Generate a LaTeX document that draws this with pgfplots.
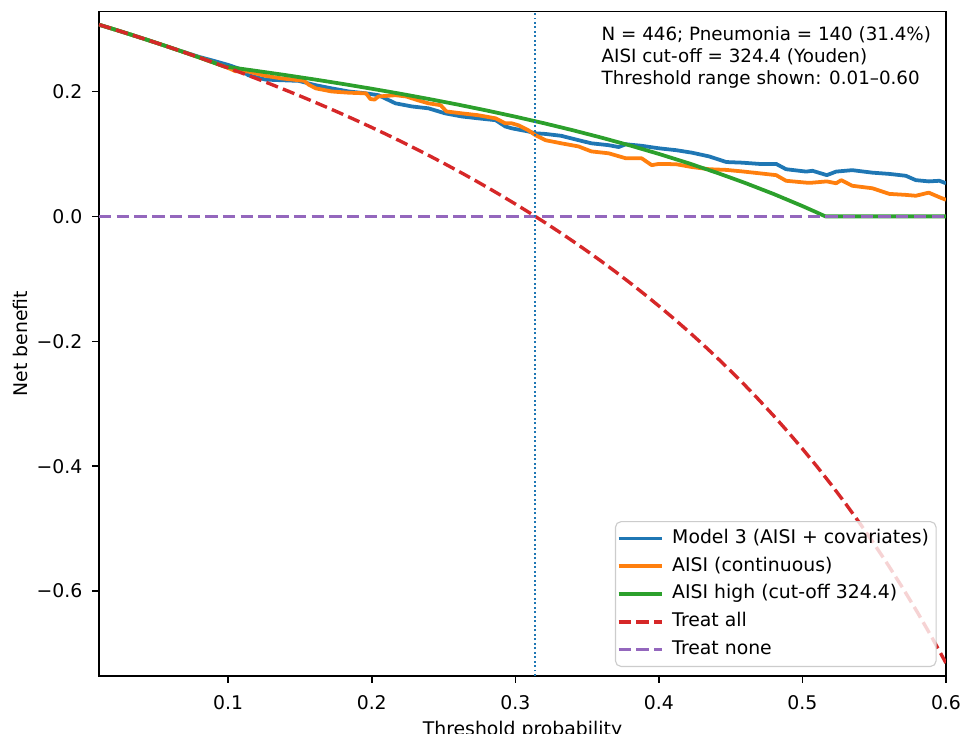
\documentclass[border=0pt]{standalone}
\usepackage{fontspec}
\setmainfont{DejaVu Sans}
\usepackage{pgfplots}
\pgfplotsset{compat=1.18}
\definecolor{tabblue}{HTML}{1F77B4}
\definecolor{taborange}{HTML}{FF7F0E}
\definecolor{tabgreen}{HTML}{2CA02C}
\definecolor{tabred}{HTML}{D62728}
\definecolor{tabpurple}{HTML}{9467BD}
\newcommand{\fs}{\fontsize{6.7}{8}\selectfont}

\begin{document}
\begin{tikzpicture}
\begin{axis}[
    scale only axis,
    width=10.5875cm, height=8.306cm,
    xmin=0.01, xmax=0.6, ymin=-0.736, ymax=0.328,
    axis line style={line width=0.54pt},
    tick align=outside, major tick length=2.35pt,
    tick style={line width=0.54pt, black},
    xtick pos=bottom, ytick pos=left,
    xtick={0.1,0.2,0.3,0.4,0.5,0.6},
    xticklabels={0.1,0.2,0.3,0.4,0.5,0.6},
    ytick={-0.6,-0.4,-0.2,0,0.2},
    yticklabels={−0.6,−0.4,−0.2,0.0,0.2},
    tick label style={font=\fs},
    xticklabel style={yshift=-1.2pt},
    label style={font=\fs},
    xlabel={Threshold probability},
    xlabel style={yshift=3pt},
    ylabel={Net benefit},
    ylabel shift={-3.6pt},
    legend cell align=left,
    legend style={at={(0.989,0.0135)}, anchor=south east, font=\fs,
        draw=black!20, rounded corners=2pt, fill=white, fill opacity=0.8,
        draw opacity=1, text opacity=1, inner xsep=0.5pt, inner ysep=1pt,
        row sep=0pt, column sep=1pt,
        nodes={inner xsep=2pt, inner ysep=1.7pt, text height=5pt, text depth=1.5pt}},
    legend image code/.code={\draw[#1] (0cm,0cm) -- (0.54cm,0cm);},
    every axis plot/.append style={line join=round},
]
% Model 3
\addplot[tabblue, line width=1.34pt] coordinates {
(0.01,0.30697) (0.02,0.29990) (0.03,0.29268) (0.04,0.28531) (0.05,0.27779)
(0.06,0.27011) (0.07,0.2625) (0.08,0.2552) (0.09,0.2490) (0.1,0.2425)
(0.107,0.237) (0.114,0.226) (0.126,0.219) (0.137,0.218) (0.149,0.217)
(0.161,0.210) (0.172,0.205) (0.184,0.200) (0.196,0.197) (0.2047,0.194)
(0.2165,0.181) (0.228,0.176) (0.2395,0.173) (0.251,0.165) (0.2626,0.160)
(0.274,0.157) (0.2863,0.154) (0.293,0.144) (0.2975,0.141) (0.309,0.136)
(0.314,0.133) (0.321,0.132) (0.332,0.129) (0.344,0.122) (0.353,0.117)
(0.365,0.114) (0.372,0.111) (0.377,0.1155) (0.388,0.113) (0.400,0.109)
(0.412,0.106) (0.423,0.102) (0.435,0.096) (0.447,0.087) (0.458,0.086)
(0.470,0.084) (0.4817,0.084) (0.4886,0.0755) (0.5026,0.0717) (0.507,0.073)
(0.517,0.066) (0.5235,0.0717) (0.5347,0.074) (0.5487,0.070) (0.5605,0.068)
(0.572,0.065) (0.579,0.058) (0.588,0.056) (0.5954,0.057) (0.6,0.053)
};
\addlegendentry{Model 3 (AISI + covariates)}
% AISI continuous
\addplot[taborange, line width=1.34pt] coordinates {
(0.01,0.30697) (0.02,0.29990) (0.03,0.29268) (0.04,0.28531) (0.05,0.27779)
(0.06,0.27011) (0.07,0.26226) (0.08,0.25424) (0.09,0.24604) (0.1,0.23767)
(0.105,0.2325) (0.114,0.232) (0.126,0.225) (0.137,0.221) (0.149,0.218)
(0.153,0.217) (0.156,0.211) (0.161,0.205) (0.172,0.200) (0.184,0.198)
(0.196,0.197) (0.199,0.188) (0.202,0.187) (0.2047,0.192) (0.2165,0.194)
(0.224,0.192) (0.228,0.189) (0.232,0.186) (0.2395,0.181) (0.248,0.178)
(0.252,0.168) (0.2626,0.165) (0.274,0.162) (0.2863,0.157) (0.293,0.149)
(0.2975,0.149) (0.302,0.146) (0.309,0.138) (0.314,0.130) (0.321,0.122)
(0.332,0.117) (0.344,0.112) (0.353,0.104) (0.365,0.101) (0.377,0.093)
(0.388,0.093) (0.395,0.082) (0.400,0.084) (0.412,0.0835) (0.423,0.079)
(0.435,0.0755) (0.447,0.0744) (0.458,0.072) (0.470,0.069) (0.4817,0.066)
(0.4886,0.057) (0.5026,0.054) (0.507,0.054) (0.517,0.056) (0.5235,0.053)
(0.527,0.058) (0.5347,0.049) (0.5487,0.045) (0.5605,0.036) (0.572,0.0344)
(0.579,0.033) (0.588,0.038) (0.5954,0.0307) (0.6,0.0265)
};
\addlegendentry{AISI (continuous)}
% AISI high (binary)
\addplot[tabgreen, line width=1.34pt] coordinates {
(0.01,0.30697) (0.02,0.29990) (0.03,0.29268) (0.04,0.28531) (0.05,0.27779)
(0.06,0.27011) (0.07,0.26226) (0.08,0.25424) (0.09,0.24604) (0.0972,0.2400)
(0.10,0.23917) (0.12,0.23284) (0.14,0.22622) (0.16,0.21928) (0.18,0.21201)
(0.20,0.20437) (0.22,0.19635) (0.24,0.18789) (0.26,0.17899) (0.28,0.16958)
(0.30,0.15964) (0.32,0.14912) (0.34,0.13795) (0.36,0.12609) (0.38,0.11347)
(0.40,0.10000) (0.42,0.08560) (0.44,0.07018) (0.46,0.05361) (0.48,0.03577)
(0.50,0.0165) (0.51,0.00628) (0.516,0) (0.6,0)
};
\addlegendentry{AISI high (cut-off 324.4)}
% Treat all
\addplot[tabred, line width=1.2pt, dash pattern=on 4.4pt off 1.9pt] coordinates {
(0.01,0.30697) (0.02,0.29990) (0.03,0.29268) (0.04,0.28531) (0.05,0.27779)
(0.06,0.27011) (0.07,0.26226) (0.08,0.25424) (0.09,0.24604) (0.10,0.23767)
(0.11,0.22910) (0.12,0.22034) (0.13,0.21138) (0.14,0.20221) (0.15,0.19282)
(0.16,0.18321) (0.17,0.17337) (0.18,0.16329) (0.19,0.15296) (0.20,0.14238)
(0.21,0.13152) (0.22,0.12038) (0.23,0.10896) (0.24,0.09724) (0.25,0.08520)
(0.26,0.07284) (0.27,0.06014) (0.28,0.04708) (0.29,0.03366) (0.30,0.01986)
(0.31,0.00565) (0.32,-0.00897) (0.33,-0.02403) (0.34,-0.03955) (0.35,-0.05554)
(0.36,-0.07203) (0.37,-0.08905) (0.38,-0.10661) (0.39,-0.12475) (0.40,-0.14350)
(0.41,-0.16288) (0.42,-0.18293) (0.43,-0.20368) (0.44,-0.22518) (0.45,-0.24746)
(0.46,-0.27056) (0.47,-0.29453) (0.48,-0.31942) (0.49,-0.34529) (0.50,-0.37220)
(0.51,-0.40020) (0.52,-0.42938) (0.53,-0.45979) (0.54,-0.49152) (0.55,-0.52467)
(0.56,-0.55932) (0.57,-0.59558) (0.58,-0.63357) (0.59,-0.67342) (0.60,-0.71525)
};
\addlegendentry{Treat all}
% Treat none
\addplot[tabpurple, line width=1.2pt, dash pattern=on 4.4pt off 1.9pt] coordinates {
(0.01,0) (0.6,0)
};
\addlegendentry{Treat none}
% prevalence marker
\addplot[tabblue, line width=0.6pt, dash pattern=on 0.6pt off 1pt, forget plot] coordinates {
(0.3139,-0.736) (0.3139,0.328)
};
\node[anchor=north east, align=left, inner sep=0pt, font=\fontsize{6.5}{7.8}\selectfont]
    at (rel axis cs:0.983,0.978)
    {N = 446; Pneumonia = 140 (31.4\%)\\AISI cut-off = 324.4 (Youden)\\Threshold range shown: 0.01–0.60};
\end{axis}
\pgfresetboundingbox
\path[use as bounding box] (-1.2375cm,-0.725cm) rectangle (10.7875cm,8.45cm);
\end{tikzpicture}
\end{document}
